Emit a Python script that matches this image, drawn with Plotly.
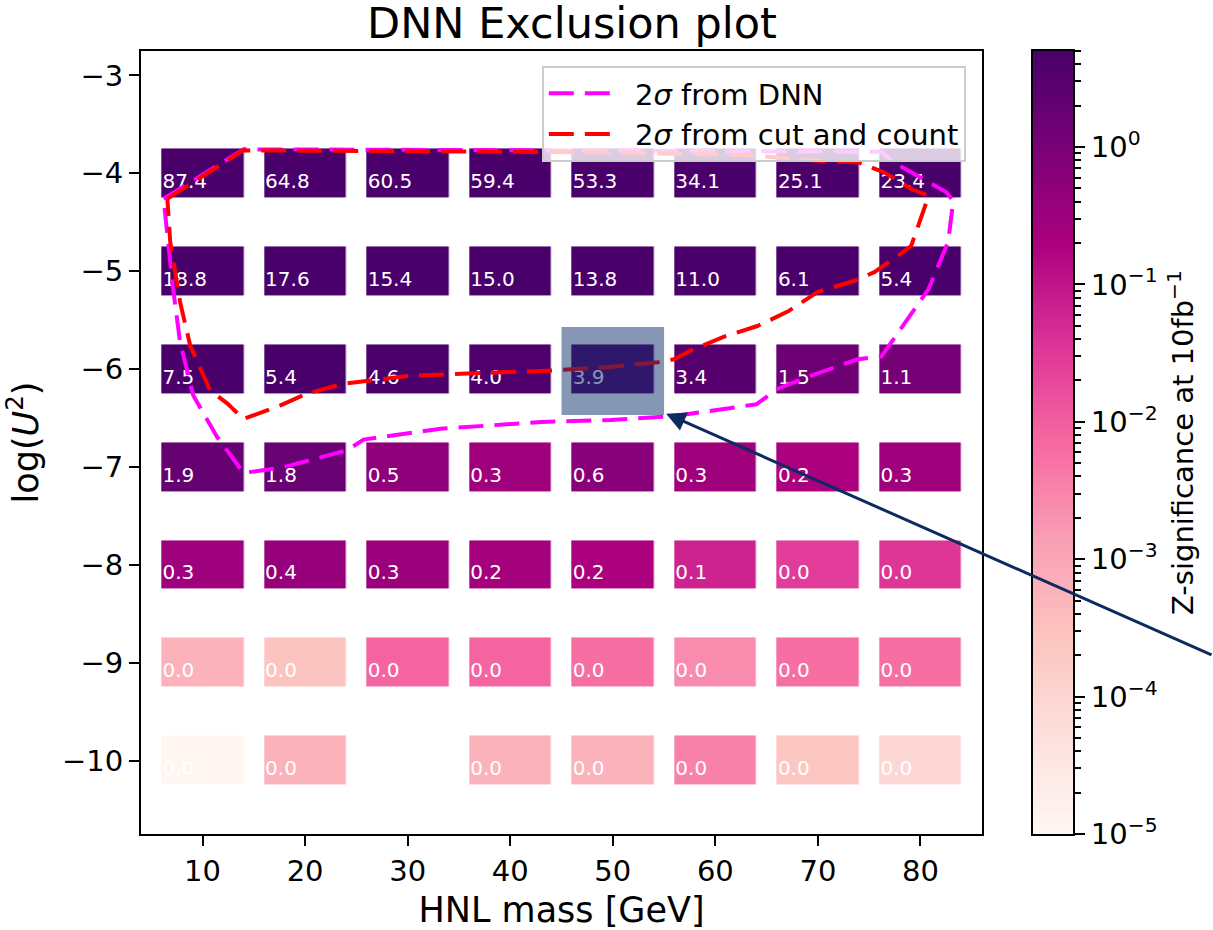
import numpy as np
import plotly.graph_objects as go

# ---------------- data ----------------
masses = [10, 20, 30, 40, 50, 60, 70, 80]          # HNL mass [GeV]
log_u2 = [-4, -5, -6, -7, -8, -9, -10]             # log(U^2)

sig_m4 = [87.4, 64.8, 60.5, 59.4, 53.3, 34.1, 25.1, 23.4]
sig_m5 = [18.8, 17.6, 15.4, 15.0, 13.8, 11.0, 6.1, 5.4]
sig_m6 = [7.5, 5.4, 4.6, 4.0, 3.9, 3.4, 1.5, 1.1]
sig_m7 = [1.9, 1.8, 0.5, 0.3, 0.6, 0.3, 0.2, 0.3]
sig_m8 = [0.3, 0.4, 0.34, 0.24, 0.2, 0.064, 0.028, 0.034]
sig_m9 = [6.0e-4, 2.8e-4, 8.0e-3, 8.0e-3, 6.0e-3, 2.4e-3, 6.0e-3, 6.0e-3]
sig_m10 = [1.15e-5, 6.0e-4, None, 6.0e-4, 6.0e-4, 3.3e-3, 2.5e-4, 8.9e-5]

dnn_mass = [6.2, 14.0, 30.0, 50.0, 70.0, 76.2, 77.4, 82.5, 83.2, 82.7, 80.8, 76.9,
            76.2, 73.9, 69.0, 66.1, 64.0, 56.0, 49.8, 43.0, 33.2, 25.7, 24.1, 17.6,
            14.0, 11.4, 9.1, 7.8, 7.1, 6.2]
dnn_logu2 = [-4.26, -3.755, -3.76, -3.765, -3.77, -3.78, -3.89, -4.19, -4.28, -4.70,
             -5.18, -5.77, -5.87, -5.90, -6.08, -6.20, -6.36, -6.48, -6.52, -6.54,
             -6.61, -6.72, -6.83, -7.01, -7.06, -6.69, -6.27, -5.72, -5.15, -4.26]

cc_mass = [6.57, 13.97, 48.9, 63.5, 70.6, 73.9, 76.45, 79.1, 80.8, 79.8, 79.1, 78.1,
           75.5, 73.5, 70.0, 67.1, 64.1, 60.8, 57.6, 55.96, 54.4, 49.5, 43.0, 39.7,
           30.0, 23.7, 20.2, 17.6, 14.0, 12.4, 10.75, 8.8, 7.8, 6.85, 6.57]
cc_logu2 = [-4.26, -3.765, -3.785, -3.815, -3.877, -3.887, -3.99, -4.16, -4.23, -4.54,
            -4.74, -4.82, -5.01, -5.10, -5.21, -5.41, -5.56, -5.67, -5.81, -5.90,
            -5.93, -5.98, -6.02, -6.03, -6.07, -6.15, -6.25, -6.37, -6.51, -6.35,
            -6.22, -5.76, -5.31, -4.70, -4.26]

x_ticks = [10, 20, 30, 40, 50, 60, 70, 80]
y_ticks = [-3, -4, -5, -6, -7, -8, -9, -10]
cb_exponents = [-5, -4, -3, -2, -1, 0]

VMIN, VMAX = 1e-5, 5.0
highlight_center = (50, -6)
arrow_tip = (55.2, -6.455)

# ---------------- styling ----------------
FONT = "DejaVu Sans"
RDPU = [[0.0, "rgb(255,247,243)"], [0.125, "rgb(253,224,221)"], [0.25, "rgb(252,197,192)"],
        [0.375, "rgb(250,159,181)"], [0.5, "rgb(247,104,161)"], [0.625, "rgb(221,52,151)"],
        [0.75, "rgb(174,1,126)"], [0.875, "rgb(122,1,119)"], [1.0, "rgb(73,0,106)"]]
NAVY = "#0d2a63"
PAD = "\u00a0"

rows = [sig_m4, sig_m5, sig_m6, sig_m7, sig_m8, sig_m9, sig_m10]
Z = [[(np.log10(v) if v is not None else None) for v in r] for r in rows]
zmin, zmax = np.log10(VMIN), np.log10(VMAX)

tx, ty, tt = [], [], []
for yi, r in zip(log_u2, rows):
    for xi, v in zip(masses, r):
        if v is None:
            continue
        tx.append(xi - 3.9)
        ty.append(yi - 0.2)
        tt.append(f"{v:.1f}")

fig = go.Figure()
fig.add_trace(go.Heatmap(x=masses, y=log_u2, z=Z, zmin=zmin, zmax=zmax, colorscale=RDPU,
                         showscale=False, xgap=20.5, ygap=49, hoverinfo="skip"))
fig.add_trace(go.Scatter(x=tx, y=ty, text=tt, mode="text", textposition="top right",
                         textfont=dict(family=FONT, size=20, color="white"),
                         showlegend=False, hoverinfo="skip"))
fig.add_trace(go.Scatter(x=dnn_mass, y=dnn_logu2, mode="lines", name=PAD + "2<i>σ</i> from DNN",
                         line=dict(color="#ff00ff", width=4, dash="25px,11px")))
fig.add_trace(go.Scatter(x=cc_mass, y=cc_logu2, mode="lines",
                         name=PAD + "2<i>σ</i> from cut and count",
                         line=dict(color="#ff0000", width=4, dash="25px,11px")))

# colour bar drawn as its own axis
cb_pos = np.linspace(zmin, zmax, 301)
cb_mid = 0.5 * (cb_pos[1:] + cb_pos[:-1])
fig.add_trace(go.Heatmap(x=[0], y=cb_pos, z=[[v] for v in cb_mid], zmin=zmin, zmax=zmax,
                         colorscale=RDPU, showscale=False, xaxis="x2", yaxis="y2",
                         hoverinfo="skip"))

minor_vals = [np.log10(k * 10.0 ** e) for e in range(-5, 1) for k in range(2, 10)
              if np.log10(k * 10.0 ** e) <= zmax]

hx, hy = highlight_center
fig.add_shape(type="rect", xref="x", yref="y", x0=hx - 5, x1=hx + 5, y0=hy - 0.47, y1=hy + 0.43,
              fillcolor="rgba(13,47,107,0.5)", line=dict(width=0), layer="above")
fig.add_annotation(x=arrow_tip[0], y=arrow_tip[1], xref="x", yref="y", ax=547, ay=242,
                   text="", showarrow=True, arrowhead=2, arrowsize=1.3, arrowwidth=3,
                   arrowcolor=NAVY)

axis_common = dict(showline=True, linewidth=2, linecolor="black", mirror=True, showgrid=False,
                   zeroline=False, ticks="outside", ticklen=10, tickwidth=2, tickcolor="black",
                   tickfont=dict(family=FONT, size=29, color="black"))

fig.update_layout(
    width=1213, height=930,
    margin=dict(l=141, r=140, t=51, b=96, autoexpand=False),
    paper_bgcolor="white", plot_bgcolor="white",
    font=dict(family=FONT, size=29, color="black"),
    title=dict(text="DNN Exclusion plot", x=(572 - 141) / 932, xref="paper", xanchor="center",
               y=1 - 23 / 930, yref="container", yanchor="middle",
               font=dict(family=FONT, size=43, color="black")),
    xaxis=dict(domain=[0, 841 / 932], range=[4, 86], tickmode="array", tickvals=x_ticks,
               title=dict(text="HNL mass [GeV]", font=dict(family=FONT, size=35), standoff=12),
               **axis_common),
    yaxis=dict(range=[-10.75, -2.75], tickmode="array", tickvals=y_ticks,
               title=dict(text="log(<i>U</i><sup>2</sup>)", font=dict(family=FONT, size=35),
                          standoff=14),
               **axis_common),
    xaxis2=dict(domain=[892 / 932, 1.0], range=[-0.5, 0.5], anchor="y2", showticklabels=False,
                ticks="", showline=True, linewidth=2, linecolor="black", mirror=True,
                showgrid=False, zeroline=False),
    yaxis2=dict(domain=[0, 1], anchor="x2", side="right", range=[zmin, zmax],
                tickmode="array", tickvals=cb_exponents,
                ticktext=[f"10<sup>{'−' if e < 0 else ''}{abs(e)}</sup>" for e in cb_exponents],
                minor=dict(tickmode="array", tickvals=minor_vals, ticks="outside", ticklen=6,
                           tickwidth=1.7, tickcolor="black"),
                title=dict(text="Z-significance at 10fb<sup>−1</sup>",
                           font=dict(family=FONT, size=29), standoff=16),
                **axis_common),
    legend=dict(x=0.885, xanchor="right", y=0.981, yanchor="top",
                bgcolor="rgba(255,255,255,0.8)", bordercolor="#cccccc", borderwidth=2,
                font=dict(family=FONT, size=29, color="black"), itemwidth=72),
)

fig.write_html("out.html")
